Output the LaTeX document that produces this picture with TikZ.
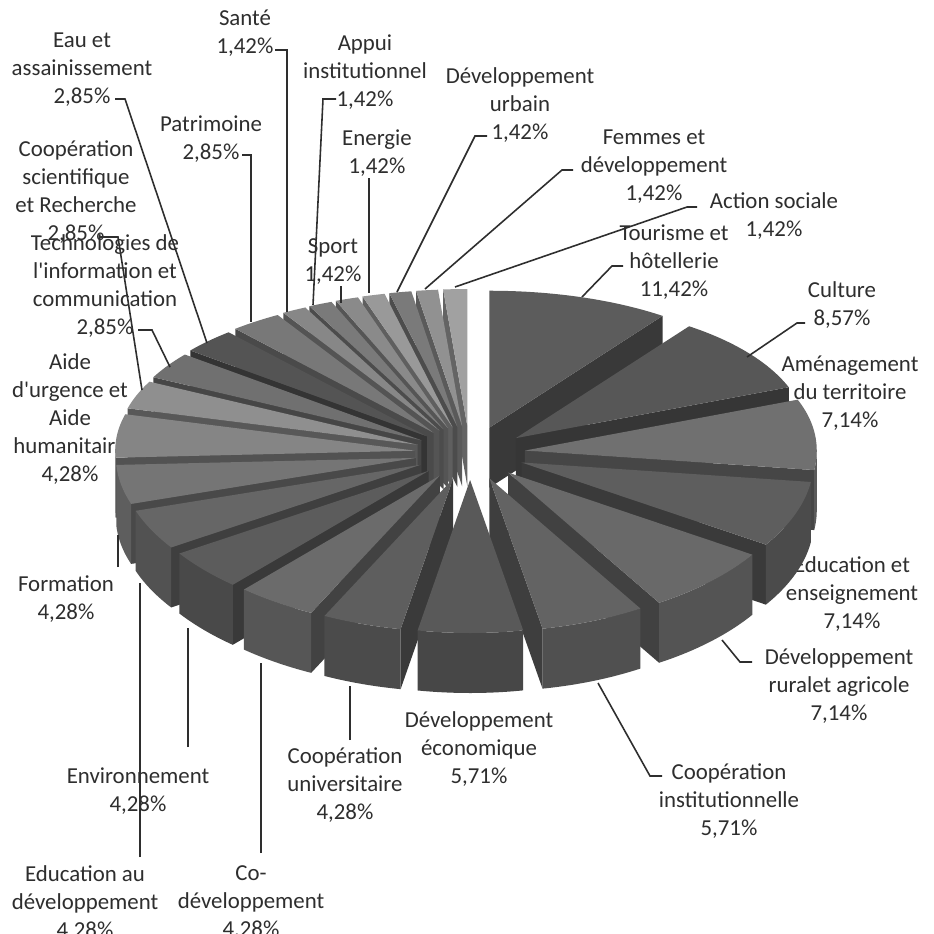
\documentclass[tikz,border=0pt]{standalone}
\usepackage{fontspec}
\setmainfont{Carlito}
\newcommand\pieslice[4]{%
  \pgfmathsetmacro\smid{(#1+#2)/2}%
  \pgfmathsetmacro\sox{55*cos(\smid)+#4}%
  \pgfmathsetmacro\soy{-27*sin(\smid)}%
  \pgfmathtruncatemacro\svb{cos(#1) < -0.001 ? 1 : 0}%
  \pgfmathtruncatemacro\sve{cos(#2) > 0.001 ? 1 : 0}%
  \pgfmathsetmacro\shi{min(#1,0)}%
  \pgfmathsetmacro\slo{max(#2,-180)}%
  \pgfmathtruncatemacro\sband{\shi > \slo+0.01 ? 1 : 0}%
  \definecolor{slc}{gray}{#3}%
  \ifnum\svb=1
    \fill[slc!62!black] ({470+\sox},{453+\soy}) -- ({piex(#1)+\sox},{piey(#1)+\soy}) -- ({piex(#1)+\sox},{piey(#1)+\soy+60}) -- ({470+\sox},{453+\soy+60}) -- cycle;
  \fi
  \ifnum\sve=1
    \fill[slc!62!black] ({470+\sox},{453+\soy}) -- ({piex(#2)+\sox},{piey(#2)+\soy}) -- ({piex(#2)+\sox},{piey(#2)+\soy+60}) -- ({470+\sox},{453+\soy+60}) -- cycle;
  \fi
  \ifnum\sband=1
    \fill[slc!80!black] plot[domain=\shi:\slo,samples=25,variable=\t] ({piex(\t)+\sox},{piey(\t)+\soy}) -- plot[domain=\slo:\shi,samples=25,variable=\t] ({piex(\t)+\sox},{piey(\t)+\soy+60}) -- cycle;
  \fi
  \fill[slc] ({470+\sox},{453+\soy}) -- plot[domain=#1:#2,samples=25,variable=\t] ({piex(\t)+\sox},{piey(\t)+\soy}) -- cycle;
}
\begin{document}
\begin{tikzpicture}[x=0.1mm,y=-0.1mm,
  declare function={
    pphi(\t)=\t+(sin(\t)>0)*5*sin(2*\t);
    piex(\t)=470+(296-4*cos(pphi(\t)))*cos(pphi(\t));
    piey(\t)=453-(145-8*sin(pphi(\t)))*sin(pphi(\t));
  },
  lbl/.style={font=\fontsize{6.5}{7.97}\selectfont, align=center, inner sep=0pt, text=black!82},
  lead/.style={draw=black!82, line width=0.45pt},
]
\fill[white] (0,0) rectangle (934,934);
\useasboundingbox (0,0) rectangle (934,934);

% labels
\node[lbl] (lSante) at (245,33) {Santé\\1,42\%};
\node[lbl] (lEau) at (82,70) {Eau et\\assainissement\\2,85\%};
\node[lbl] (lPat) at (211,139.5) {Patrimoine\\2,85\%};
\node[lbl] (lApp) at (365,72) {Appui\\institutionnel\\1,42\%};
\node[lbl] (lEne) at (377,153) {Energie\\1,42\%};
\node[lbl] (lSpo) at (333,262) {Sport\\1,42\%};
\node[lbl] (lUrb) at (520,105) {Développement\\urbain\\1,42\%};
\node[lbl] (lFem) at (654,166.5) {Femmes et\\développement\\1,42\%};
\node[lbl] (lAct) at (774,216) {Action sociale\\1,42\%};
\node[lbl] (lTou) at (674,262) {Tourisme et\\hôtellerie\\11,42\%};
\node[lbl] (lCul) at (842,305.5) {Culture\\8,57\%};
\node[lbl] (lAme) at (850,393.5) {Aménagement\\du territoire\\7,14\%};
\node[lbl] (lEdu) at (852,592.5) {Éducation et\\enseignement\\7,14\%};
\node[lbl] (lRur) at (839,686.5) {Développement\\ruralet agricole\\7,14\%};
\node[lbl] (lCin) at (729,801.5) {Coopération\\institutionnelle\\5,71\%};
\node[lbl] (lEco) at (479,749) {Développement\\économique\\5,71\%};
\node[lbl] (lCun) at (345,785) {Coopération\\universitaire\\4,28\%};
\node[lbl] (lCod) at (251,903) {Co-\\développement\\4,28\%};
\node[lbl] (lEad) at (85,903) {Education au\\développement\\4,28\%};
\node[lbl] (lEnv) at (138,791) {Environnement\\4,28\%};
\node[lbl] (lFor) at (66,599.5) {Formation\\4,28\%};
\node[lbl] (lAid) at (70,419.5) {Aide\\d\textquotesingle urgence et\\Aide\\humanitaire\\4,28\%};
\node[lbl] (lTec) at (105,286) {Technologies de\\l\textquotesingle information et\\communication\\2,85\%};
\node[lbl] (lCsc) at (76,192) {Coopération\\scientifique\\et Recherche\\2,85\%};

% pie slices, back to front
\pieslice{-264.35}{-270}{0.63}{0}
\pieslice{-259.24}{-264.35}{0.57}{0}
\pieslice{-254.12}{-259.24}{0.48}{0}
\pieslice{-249.01}{-254.12}{0.60}{0}
\pieslice{90}{48.89}{0.36}{0}
\pieslice{-243.9}{-249.01}{0.54}{0}
\pieslice{-238.79}{-243.9}{0.48}{0}
\pieslice{-233.68}{-238.79}{0.53}{0}
\pieslice{-223.42}{-233.68}{0.47}{0}
\pieslice{-213.16}{-223.42}{0.33}{0}
\pieslice{48.89}{18.04}{0.34}{0}
\pieslice{-202.9}{-213.16}{0.44}{0}
\pieslice{-192.64}{-202.9}{0.56}{0}
\pieslice{18.04}{-7.67}{0.44}{0}
\pieslice{-177.23}{-192.64}{0.52}{0}
\pieslice{-161.82}{-177.23}{0.46}{0}
\pieslice{-7.67}{-33.37}{0.37}{0}
\pieslice{-146.41}{-161.82}{0.40}{0}
\pieslice{-131.0}{-146.41}{0.36}{0}
\pieslice{-33.37}{-59.08}{0.41}{0}
\pieslice{-115.6}{-131.0}{0.42}{0}
\pieslice{-59.08}{-79.63}{0.39}{0}
\pieslice{-100.19}{-115.6}{0.37}{0}
\pieslice{-79.63}{-100.19}{0.35}{0}

% leader points
\coordinate (sanA) at (275,50); \coordinate (sanB) at (287,50); \coordinate (sanC) at (287,312);
\coordinate (eauA) at (115,99); \coordinate (eauB) at (125,99); \coordinate (eauC) at (207,343);
\coordinate (patA) at (242,155); \coordinate (patB) at (251,155); \coordinate (patC) at (251,322);
\coordinate (appA) at (336,99); \coordinate (appB) at (323,99); \coordinate (appC) at (313,305);
\coordinate (eneA) at (369,178); \coordinate (eneC) at (369,293);
\coordinate (spoA) at (341,286); \coordinate (spoC) at (341,303);
\coordinate (urbA) at (487,136); \coordinate (urbB) at (475,136); \coordinate (urbC) at (397,292);
\coordinate (femA) at (573,170); \coordinate (femB) at (562,170); \coordinate (femC) at (425,289);
\coordinate (actA) at (697,207); \coordinate (actB) at (687,207); \coordinate (actC) at (455,287);
\coordinate (touA) at (623,266); \coordinate (touB) at (612,266); \coordinate (touC) at (582,297);
\coordinate (culA) at (805,323); \coordinate (culB) at (797,323); \coordinate (culC) at (747,357);
\coordinate (rurA) at (752,662); \coordinate (rurB) at (740,662); \coordinate (rurC) at (722,640);
\coordinate (cinA) at (662,776); \coordinate (cinB) at (650,776); \coordinate (cinC) at (598,683);
\coordinate (cunA) at (350,740); \coordinate (cunC) at (350,686);
\coordinate (codA) at (261,853); \coordinate (codC) at (261,663);
\coordinate (eadA) at (140,857); \coordinate (eadC) at (140,583);
\coordinate (envA) at (188,747); \coordinate (envC) at (188,628);
\coordinate (forA) at (118,567); \coordinate (forC) at (118,535);
\coordinate (tecA) at (138,330); \coordinate (tecB) at (152,330); \coordinate (tecC) at (170,367);
\coordinate (cscA) at (100,237); \coordinate (cscB) at (118,237); \coordinate (cscC) at (142,390);

% leaders
\draw[lead] (sanA) -- (sanB) -- (sanC);
\draw[lead] (eauA) -- (eauB) -- (eauC);
\draw[lead] (patA) -- (patB) -- (patC);
\draw[lead] (appA) -- (appB) -- (appC);
\draw[lead] (eneA) -- (eneC);
\draw[lead] (spoA) -- (spoC);
\draw[lead] (urbA) -- (urbB) -- (urbC);
\draw[lead] (femA) -- (femB) -- (femC);
\draw[lead] (actA) -- (actB) -- (actC);
\draw[lead] (touA) -- (touB) -- (touC);
\draw[lead] (culA) -- (culB) -- (culC);
\draw[lead] (rurA) -- (rurB) -- (rurC);
\draw[lead] (cinA) -- (cinB) -- (cinC);
\draw[lead] (cunA) -- (cunC);
\draw[lead] (codA) -- (codC);
\draw[lead] (eadA) -- (eadC);
\draw[lead] (envA) -- (envC);
\draw[lead] (forA) -- (forC);
\draw[lead] (tecA) -- (tecB) -- (tecC);
\draw[lead] (cscA) -- (cscB) -- (cscC);
\end{tikzpicture}
\end{document}
